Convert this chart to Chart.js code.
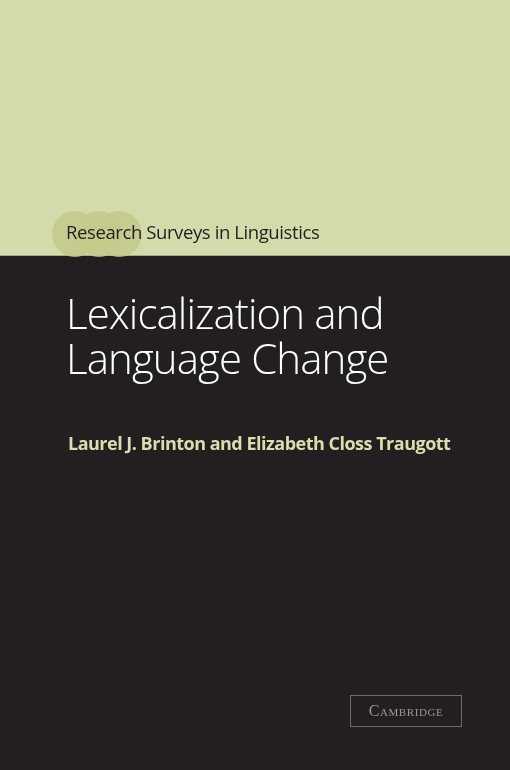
<!DOCTYPE html>
<html>
<head>
<meta charset="utf-8">
<script src="https://cdn.jsdelivr.net/npm/chart.js@4"></script>
<style>
  html, body { margin:0; padding:0; background:#231f20; }
  #wrap { position:relative; width:510px; height:770px; overflow:hidden; }
  #cover { position:absolute; left:0; top:0; }
  .circ { position:absolute; width:46px; height:46px; border-radius:50%; background:#c3c98c; opacity:0.85; }
  .t { position:absolute; white-space:nowrap; }
  #series { left:66px; top:219px; font:18.5px "Open Sans", sans-serif; color:#231f20; letter-spacing:-0.4px; }
  .title { left:66px; font:300 42px "Open Sans", sans-serif; color:#ffffff; letter-spacing:-0.9px; }
  #authors { left:68px; top:431px; font:bold 18px "Open Sans", sans-serif; color:#dcdcae; letter-spacing:-0.5px; }
  #box { position:absolute; left:350px; top:695px; width:112px; height:32px; border:1px solid #6f6a6a; box-sizing:border-box;
         color:#9c9696; font:16px "Liberation Serif", serif; font-variant:small-caps; text-align:center; line-height:30px; letter-spacing:0.6px; }
</style>
</head>
<body>
<div id="wrap">
  <canvas id="cover" width="510" height="770"></canvas>
  <div class="circ" style="left:52px;top:211px"></div>
  <div class="circ" style="left:76px;top:211px"></div>
  <div class="circ" style="left:96px;top:211px"></div>
  <div class="t" id="series">Research Surveys in Linguistics</div>
  <div class="t title" style="top:284px">Lexicalization and</div>
  <div class="t title" style="top:329px">Language Change</div>
  <div class="t" id="authors">Laurel J. Brinton and Elizabeth Closs Traugott</div>
  <div id="box">Cambridge</div>
</div>
<script>
// cover bands, top to bottom (pixels of height)
const bands = ['upper', 'lower']
const bandHeights = [256, 514]
const bandColors = ['#d5daaa', '#231f20']

new Chart(document.getElementById('cover'), {
  type: 'bar',
  data: {
    labels: ['cover'],
    datasets: bands.map((b, i) => ({
      label: b,
      data: [bandHeights[i]],
      backgroundColor: bandColors[i],
      borderWidth: 0,
      barPercentage: 1,
      categoryPercentage: 1,
      stack: 's'
    })).reverse()
  },
  options: {
    responsive: false,
    animation: false,
    layout: { padding: 0 },
    plugins: { legend: { display: false }, tooltip: { enabled: false } },
    scales: {
      x: { display: false, stacked: true },
      y: { display: false, stacked: true, min: 0, max: 770 }
    }
  }
})
</script>
</body>
</html>
